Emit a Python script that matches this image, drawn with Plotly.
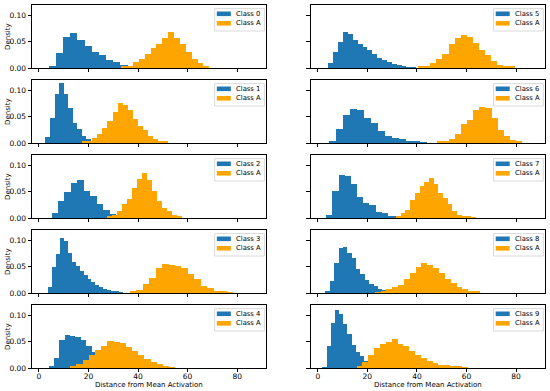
import plotly.graph_objects as go
from plotly.subplots import make_subplots

class_labels = ["Class 0", "Class 1", "Class 2", "Class 3", "Class 4",
                "Class 5", "Class 6", "Class 7", "Class 8", "Class 9"]
ref_label = "Class A"

# histogram bins for each class (first bin left edge, bin width, density per bin)
class_start = [3.9, 2.6, 5.1, 3.6, 3.9, 4.2, 4.6, 3.3, 3.0, 1.8]
class_width = [2.9, 1.84, 2.6, 1.6, 2.17, 1.97, 2.82, 2.5, 1.77, 1.68]
class_density = [
    [0.004, 0.029, 0.060, 0.0675, 0.054, 0.041, 0.031, 0.0255, 0.016, 0.011, 0.006, 0.003],
    [0.011, 0.048, 0.094, 0.114, 0.094, 0.067, 0.038, 0.027, 0.013, 0.007, 0.004],
    [0.0096, 0.033, 0.050, 0.067, 0.073, 0.052, 0.041, 0.026, 0.015, 0.008, 0.003],
    [0.011, 0.049, 0.075, 0.104, 0.100, 0.077, 0.060, 0.051, 0.041, 0.034, 0.027, 0.021,
     0.016, 0.012, 0.008, 0.005, 0.003, 0.002, 0.001],
    [0.004, 0.019, 0.054, 0.062, 0.061, 0.059, 0.053, 0.041, 0.031, 0.018, 0.010, 0.005, 0.002],
    [0.009, 0.030, 0.050, 0.069, 0.064, 0.054, 0.046, 0.040, 0.034, 0.027, 0.020, 0.016,
     0.011, 0.0076, 0.005, 0.0025, 0.0015, 0.001],
    [0.0025, 0.027, 0.053, 0.064, 0.062, 0.048, 0.038, 0.022, 0.014, 0.010, 0.0076, 0.0045,
     0.003, 0.0015],
    [0.006, 0.052, 0.081, 0.080, 0.064, 0.040, 0.029, 0.024, 0.011, 0.009, 0.0045, 0.003],
    [0.003, 0.022, 0.058, 0.086, 0.087, 0.076, 0.066, 0.046, 0.036, 0.025, 0.018, 0.013,
     0.008, 0.0057, 0.004],
    [0.001, 0.041, 0.086, 0.110, 0.103, 0.083, 0.064, 0.043, 0.030, 0.022, 0.014, 0.008,
     0.004, 0.002],
]

ref_start = [33.2, 17.4, 27.6, 36.7, 12.6, 40.5, 48.1, 31.5, 22.9, 15.6]
ref_width = [2.37, 2.05, 2.0, 2.6, 2.5, 2.44, 2.44, 1.9, 2.36, 2.36]
ref_density = [
    [0.002, 0.004, 0.011, 0.018, 0.026, 0.039, 0.046, 0.057, 0.068, 0.058, 0.046, 0.031,
     0.018, 0.0096, 0.004],
    [0.002, 0.0045, 0.0096, 0.017, 0.029, 0.042, 0.059, 0.076, 0.073, 0.063, 0.046, 0.032,
     0.024, 0.013, 0.008, 0.0045, 0.002],
    [0.003, 0.006, 0.013, 0.027, 0.036, 0.057, 0.074, 0.085, 0.073, 0.052, 0.032, 0.020,
     0.013, 0.0057, 0.0025],
    [0.003, 0.0064, 0.018, 0.029, 0.048, 0.056, 0.054, 0.052, 0.048, 0.037, 0.026, 0.013,
     0.0096, 0.0045, 0.002, 0.001],
    [0.0045, 0.008, 0.016, 0.025, 0.034, 0.041, 0.051, 0.049, 0.048, 0.040, 0.032, 0.024,
     0.017, 0.012, 0.0076, 0.0045, 0.0013],
    [0.002, 0.004, 0.009, 0.018, 0.027, 0.045, 0.057, 0.063, 0.059, 0.048, 0.035, 0.025,
     0.013, 0.0064, 0.004, 0.0025],
    [0.002, 0.004, 0.008, 0.018, 0.037, 0.043, 0.063, 0.069, 0.066, 0.048, 0.024, 0.013,
     0.005, 0.0025],
    [0.0025, 0.010, 0.016, 0.034, 0.048, 0.061, 0.069, 0.076, 0.065, 0.048, 0.038, 0.026,
     0.013, 0.0064, 0.0045, 0.003, 0.0015],
    [0.0015, 0.003, 0.007, 0.011, 0.016, 0.027, 0.038, 0.050, 0.057, 0.053, 0.048, 0.038,
     0.027, 0.020, 0.011, 0.007, 0.004, 0.002],
    [0.003, 0.011, 0.025, 0.038, 0.045, 0.050, 0.055, 0.046, 0.041, 0.032, 0.025, 0.020,
     0.013, 0.0096, 0.0057, 0.005, 0.004, 0.002, 0.001],
]

x_ticks = [0, 20, 40, 60, 80]
y_ticks = [0.0, 0.05, 0.10]
x_title = "Distance from Mean Activation"
y_title = "Density"

BLUE = "#1f77b4"
ORANGE = "#ffa500"
FONT = "DejaVu Sans"

W, H = 550, 391
ML, MR, MT, MB = 32, 5, 5, 23
PW, PH = W - ML - MR, H - MT - MB

fig = make_subplots(rows=5, cols=2, shared_xaxes=True, shared_yaxes=True,
                    horizontal_spacing=44.7 / PW, vertical_spacing=12 / PH)


def centers(start, width, n):
    return [start + width * (i + 0.5) for i in range(n)]


for k in range(10):
    row = k % 5 + 1
    col = k // 5 + 1
    fig.add_trace(go.Bar(x=centers(class_start[k], class_width[k], len(class_density[k])),
                         y=class_density[k], width=class_width[k], name=class_labels[k],
                         marker=dict(color=BLUE, line=dict(width=0)), showlegend=False),
                  row=row, col=col)
    fig.add_trace(go.Bar(x=centers(ref_start[k], ref_width[k], len(ref_density[k])),
                         y=ref_density[k], width=ref_width[k], name=ref_label,
                         marker=dict(color=ORANGE, line=dict(width=0)), showlegend=False),
                  row=row, col=col)

fig.update_xaxes(range=[-2.8, 91.7], tickvals=x_ticks, ticks="outside", ticklen=3.5,
                 tickwidth=0.8, tickcolor="black", showline=True, linecolor="black",
                 linewidth=0.8, mirror=True, showgrid=False, zeroline=False,
                 ticklabelstandoff=-2,
                 tickfont=dict(size=7.5, color="black"))
fig.update_yaxes(range=[0, 0.12], tickvals=y_ticks, tickformat=".2f", ticks="outside",
                 ticklen=3.5, tickwidth=0.8, tickcolor="black", showline=True,
                 linecolor="black", linewidth=0.8, mirror=True, showgrid=False,
                 zeroline=False, tickfont=dict(size=7.5, color="black"))


def px2x(px):
    return (px - ML) / PW


def px2y(py):
    return 1 - (py - MT) / PH


annotations = []
shapes = []
for k in range(10):
    row = k % 5 + 1
    col = k // 5 + 1
    idx = (row - 1) * 2 + col
    xd = fig.layout["xaxis" if idx == 1 else f"xaxis{idx}"].domain
    yd = fig.layout["yaxis" if idx == 1 else f"yaxis{idx}"].domain
    right = ML + xd[1] * PW
    top = MT + (1 - yd[1]) * PH
    # legend frame
    shapes.append(dict(type="rect", xref="paper", yref="paper",
                       x0=px2x(right - 51.5), x1=px2x(right - 1.7),
                       y0=px2y(top + 3.6), y1=px2y(top + 26),
                       line=dict(color="#d0d0d0", width=0.8),
                       fillcolor="rgba(255,255,255,0.8)", layer="above"))
    for j, (lab, colr) in enumerate([(class_labels[k], BLUE), (ref_label, ORANGE)]):
        cy = top + 8.8 + j * 9.5
        shapes.append(dict(type="rect", xref="paper", yref="paper",
                           x0=px2x(right - 49.3), x1=px2x(right - 35.3),
                           y0=px2y(cy - 2.3), y1=px2y(cy + 2.3),
                           line=dict(width=0), fillcolor=colr, layer="above"))
        annotations.append(dict(text=lab, x=px2x(right - 31), y=px2y(cy),
                                xref="paper", yref="paper", showarrow=False,
                                xanchor="left", yanchor="middle", borderpad=0,
                                font=dict(size=6.8, family=FONT, color="black")))
    if col == 1:
        annotations.append(dict(text=y_title, x=px2x(7.5), y=(yd[0] + yd[1]) / 2,
                                xref="paper", yref="paper", textangle=-90,
                                showarrow=False, xanchor="center", yanchor="middle",
                                font=dict(size=7, family=FONT, color="black")))
    if row == 5:
        annotations.append(dict(text=x_title, x=(xd[0] + xd[1]) / 2, y=px2y(384.5),
                                xref="paper", yref="paper", showarrow=False,
                                xanchor="center", yanchor="middle",
                                font=dict(size=7, family=FONT, color="black")))

fig.update_layout(width=W, height=H, margin=dict(l=ML, r=MR, t=MT, b=MB),
                  barmode="overlay", bargap=0, plot_bgcolor="white",
                  paper_bgcolor="white", font=dict(family=FONT, size=7, color="black"),
                  annotations=annotations, shapes=shapes, showlegend=False)

fig.write_html("out.html", config={"displayModeBar": False},
               post_script="document.body.style.margin='0';document.body.style.padding='0';")
